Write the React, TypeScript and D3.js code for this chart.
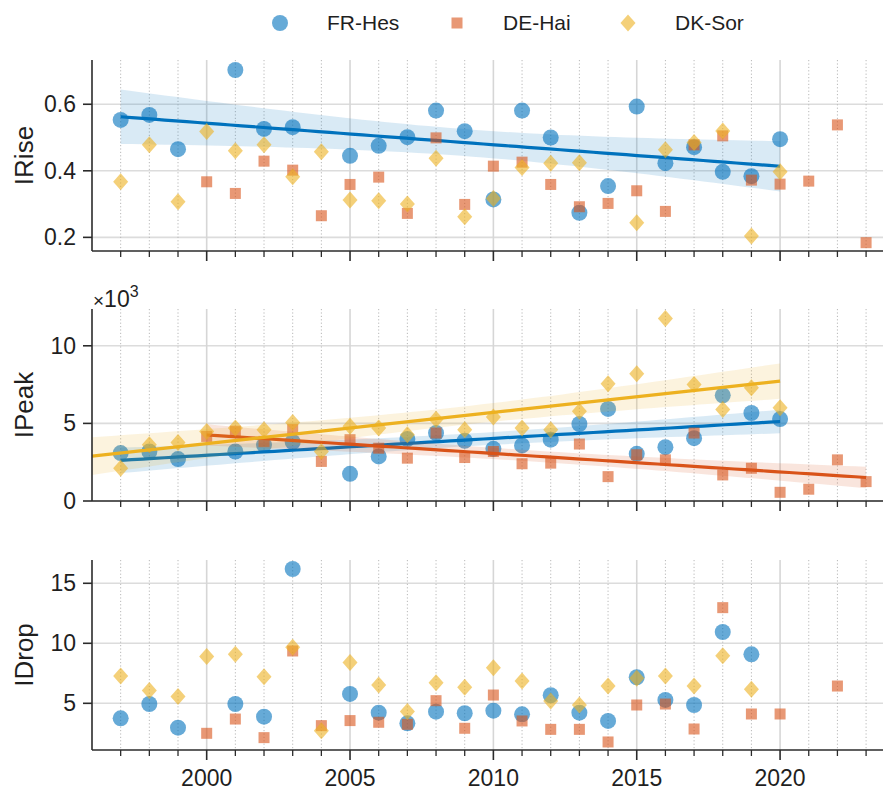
import React from "react";
import * as d3 from "d3";

const years = [1997, 1998, 1999, 2000, 2001, 2002, 2003, 2004, 2005, 2006, 2007, 2008, 2009, 2010, 2011, 2012, 2013, 2014, 2015, 2016, 2017, 2018, 2019, 2020, 2021, 2022, 2023];
const seriesNames = ["FR-Hes", "DE-Hai", "DK-Sor"];

// IRise
const riseFR = [0.553, 0.568, 0.465, null, 0.703, 0.526, 0.531, null, 0.445, 0.475, 0.501, 0.581, 0.519, 0.314, 0.581, 0.5, 0.274, 0.354, 0.593, 0.423, 0.471, 0.397, 0.384, 0.495, null, null, null];
const riseDE = [null, null, null, 0.367, 0.332, 0.429, 0.402, 0.265, 0.359, 0.381, 0.272, 0.499, 0.299, 0.414, 0.426, 0.359, 0.292, 0.302, 0.34, 0.278, 0.478, 0.505, 0.372, 0.36, 0.369, 0.538, 0.184];
const riseDK = [0.367, 0.478, 0.307, 0.518, 0.46, 0.478, 0.382, 0.457, 0.312, 0.31, 0.3, 0.438, 0.262, 0.317, 0.41, 0.423, 0.424, null, 0.244, 0.463, 0.485, 0.52, 0.204, 0.397, null, null, null];

// IPeak
const peakFR = [3090, 3190, 2700, null, 3190, 3620, 3800, null, 1750, 2870, 3990, 4380, 3880, 3360, 3580, 3950, 4960, 5930, 3040, 3470, 4050, 6810, 5670, 5280, null, null, null];
const peakDE = [null, null, null, 4160, 4500, 3840, 4600, 2550, 3950, 3400, 2760, 4380, 2800, 3190, 2400, 2440, 3670, 1570, 2980, 2650, 4380, 1680, 2110, 560, 760, 2650, 1250];
const peakDK = [2110, 3620, 3770, 4480, 4700, 4590, 5060, 3190, 4810, 4700, 4270, 5260, 4590, 5410, 4700, 4590, 5780, 7550, 8200, 11750, 7500, 5890, 7290, 6000, null, null, null];

// IDrop
const dropFR = [3.75, 4.94, 2.97, null, 4.94, 3.89, 16.19, null, 5.78, 4.22, 3.33, 4.3, 4.17, 4.39, 4.08, 5.67, 4.22, 3.53, 7.17, 5.28, 4.86, 10.94, 9.08, null, null, null, null];
const dropDE = [null, null, null, 2.5, 3.69, 2.14, 9.36, 3.14, 3.56, 3.42, 3.25, 5.22, 2.92, 5.69, 3.53, 2.83, 2.83, 1.78, 4.86, 4.94, 2.86, 12.97, 4.11, 4.11, null, 6.44, null];
const dropDK = [7.28, 6.06, 5.56, 8.89, 9.08, 7.22, 9.67, 2.72, 8.39, 6.53, 4.31, 6.72, 6.33, 7.97, 6.86, 5.19, 4.86, 6.44, 7.08, 7.28, 6.44, 8.97, 6.17, null, null, null, null];

const majorYears = [2000, 2005, 2010, 2015, 2020];
const riseTicks = [0.2, 0.4, 0.6];
const peakTicks = [0, 5000, 10000];
const dropTicks = [5, 10, 15];

// which series get a fitted trend per panel, and the x-extent drawn for each fit
const riseTrend = [true, false, false];
const peakTrend = [true, true, true];
const dropTrend = [false, false, false];
const trendStart = [1997, 2000, 1996];

const COLORS = ["#0072BD", "#D95319", "#EDB120"];
const FONT = "'Liberation Sans', Arial, Helvetica, sans-serif";
const TEXT = "#1f1f1f";

const W = 883;
const H = 790;
const X0 = 92;
const X1 = 884;

const x = d3.scaleLinear().domain([1996, 2023.6]).range([X0, 92 + 27.6 * 28.67]);

function tCrit(df: number) {
  return 1.96 + 2.4 / df + 2.9 / (df * df);
}

function fitLine(vals: (number | null)[], start: number) {
  const pts = years.map((yr, i) => [yr, vals[i]] as [number, number | null]).filter((p) => p[1] != null) as [number, number][];
  const n = pts.length;
  const xbar = d3.mean(pts, (p) => p[0]) as number;
  const ybar = d3.mean(pts, (p) => p[1]) as number;
  const sxx = d3.sum(pts, (p) => (p[0] - xbar) ** 2);
  const sxy = d3.sum(pts, (p) => (p[0] - xbar) * (p[1] - ybar));
  const b = sxy / sxx;
  const a = ybar - b * xbar;
  const sse = d3.sum(pts, (p) => (p[1] - (a + b * p[0])) ** 2);
  const s = Math.sqrt(sse / (n - 2));
  const t = tCrit(n - 2);
  const end = d3.max(pts, (p) => p[0]) as number;
  const xs = d3.range(0, 61).map((k) => start + ((end - start) * k) / 60);
  return xs.map((xv) => {
    const yh = a + b * xv;
    const se = s * Math.sqrt(1 / n + (xv - xbar) ** 2 / sxx);
    return { x: xv, y: yh, lo: yh - t * se, hi: yh + t * se };
  });
}

function Marker({ kind, cx, cy, color, op }: { kind: number; cx: number; cy: number; color: string; op: number }) {
  if (kind === 0) return <circle cx={cx} cy={cy} r={8} fill={color} fillOpacity={op} />;
  if (kind === 1) return <rect x={cx - 5.5} y={cy - 5.5} width={11} height={11} fill={color} fillOpacity={op} />;
  return <path d={`M${cx},${cy - 8.5}L${cx + 7.5},${cy}L${cx},${cy + 8.5}L${cx - 7.5},${cy}Z`} fill={color} fillOpacity={op} />;
}

type PanelDef = {
  label: string;
  top: number;
  bottom: number;
  domain: [number, number];
  ticks: number[];
  fmt: (v: number) => string;
  data: (number | null)[][];
  trend: boolean[];
  xLabels: boolean;
  offset?: boolean;
};

const panels: PanelDef[] = [
  { label: "IRise", top: 60, bottom: 251, domain: [0.159, 0.733], ticks: riseTicks, fmt: (v) => v.toFixed(1), data: [riseFR, riseDE, riseDK], trend: riseTrend, xLabels: false },
  { label: "IPeak", top: 309, bottom: 501, domain: [0, 12370], ticks: peakTicks, fmt: (v) => String(v / 1000), data: [peakFR, peakDE, peakDK], trend: peakTrend, xLabels: false, offset: true },
  { label: "IDrop", top: 560, bottom: 750, domain: [1.11, 16.94], ticks: dropTicks, fmt: (v) => String(v), data: [dropFR, dropDE, dropDK], trend: dropTrend, xLabels: true },
];

function Panel({ p, idx }: { p: PanelDef; idx: number }) {
  const y = d3.scaleLinear().domain(p.domain).range([p.bottom, p.top]);
  const minorYears = years.filter((yr) => !majorYears.includes(yr));
  const area = d3.area<any>().x((d) => x(d.x)).y0((d) => y(d.lo)).y1((d) => y(d.hi));
  const line = d3.line<any>().x((d) => x(d.x)).y((d) => y(d.y));
  const clipId = `clip${idx}`;
  return (
    <g>
      <defs>
        <clipPath id={clipId}>
          <rect x={X0} y={p.top} width={X1 - X0} height={p.bottom - p.top} />
        </clipPath>
      </defs>
      {/* grid */}
      {p.ticks.map((t) => (
        <line key={"hg" + t} x1={X0} x2={X1} y1={y(t)} y2={y(t)} stroke="#dcdcdc" strokeWidth={1.6} />
      ))}
      {majorYears.map((yr) => (
        <line key={"vg" + yr} x1={x(yr)} x2={x(yr)} y1={p.top} y2={p.bottom} stroke="#d6d6d6" strokeWidth={1.6} />
      ))}
      {minorYears.map((yr) => (
        <line key={"mg" + yr} x1={x(yr)} x2={x(yr)} y1={p.top} y2={p.bottom} stroke="#b8b8b8" strokeWidth={1} strokeDasharray="1.2,2.2" />
      ))}
      {/* series */}
      <g clipPath={`url(#${clipId})`}>
        {p.data.map((vals, si) => {
          const fit = p.trend[si] ? fitLine(vals, trendStart[si]) : null;
          return (
            <g key={"s" + si}>
              {years.map((yr, i) =>
                vals[i] == null ? null : (
                  <Marker key={yr} kind={si} cx={x(yr)} cy={y(vals[i] as number)} color={COLORS[si]} op={0.6} />
                )
              )}
              {fit && <path d={area(fit) || ""} fill={COLORS[si]} fillOpacity={0.15} />}
              {fit && <path d={line(fit) || ""} fill="none" stroke={COLORS[si]} strokeWidth={3.2} />}
            </g>
          );
        })}
      </g>
      {/* axes */}
      <line x1={X0} x2={X0} y1={p.top} y2={p.bottom} stroke="#2b2b2b" strokeWidth={1.6} />
      <line x1={X0} x2={X1} y1={p.bottom} y2={p.bottom} stroke="#2b2b2b" strokeWidth={1.6} />
      {p.ticks.map((t) => (
        <g key={"yt" + t}>
          <line x1={X0 - 9} x2={X0} y1={y(t)} y2={y(t)} stroke="#2b2b2b" strokeWidth={1.6} />
          <text x={X0 - 16} y={y(t)} dy="0.35em" textAnchor="end" fontSize={23} fill={TEXT} fontFamily={FONT}>
            {p.fmt(t)}
          </text>
        </g>
      ))}
      {majorYears.map((yr) => (
        <line key={"xt" + yr} x1={x(yr)} x2={x(yr)} y1={p.bottom} y2={p.bottom + 10} stroke="#2b2b2b" strokeWidth={1.6} />
      ))}
      {minorYears.map((yr) => (
        <line key={"xm" + yr} x1={x(yr)} x2={x(yr)} y1={p.bottom} y2={p.bottom + 6} stroke="#2b2b2b" strokeWidth={1.3} />
      ))}
      {p.xLabels &&
        majorYears.map((yr) => (
          <text key={"xl" + yr} x={x(yr)} y={786} textAnchor="middle" fontSize={23} fill={TEXT} fontFamily={FONT}>
            {yr}
          </text>
        ))}
      <text
        transform={`translate(33,${(p.top + p.bottom) / 2}) rotate(-90)`}
        textAnchor="middle"
        fontSize={26}
        fill={TEXT}
        fontFamily={FONT}
      >
        {p.label}
      </text>
      {p.offset && (
        <text x={93} y={306.5} fill={TEXT} fontFamily={FONT}>
          <tspan fontSize={19}>×</tspan>
          <tspan fontSize={23}>10</tspan>
          <tspan fontSize={16} dy={-10}>3</tspan>
        </text>
      )}
    </g>
  );
}

function Legend() {
  const items = [
    { mx: 280, tx: 327 },
    { mx: 457, tx: 503 },
    { mx: 628, tx: 675 },
  ];
  return (
    <g>
      {items.map((it, i) => (
        <g key={i}>
          <Marker kind={i} cx={it.mx} cy={23} color={COLORS[i]} op={0.6} />
          <text x={it.tx} y={23} dy="0.35em" fontSize={21} fill={TEXT} fontFamily={FONT}>
            {seriesNames[i]}
          </text>
        </g>
      ))}
    </g>
  );
}

export default function App() {
  return (
    <svg width={W} height={H} style={{ position: "absolute", left: 0, top: 0, background: "#fff" }}>
      <rect x={0} y={0} width={W} height={H} fill="#fff" />
      {panels.map((p, i) => (
        <Panel key={p.label} p={p} idx={i} />
      ))}
      <Legend />
    </svg>
  );
}
